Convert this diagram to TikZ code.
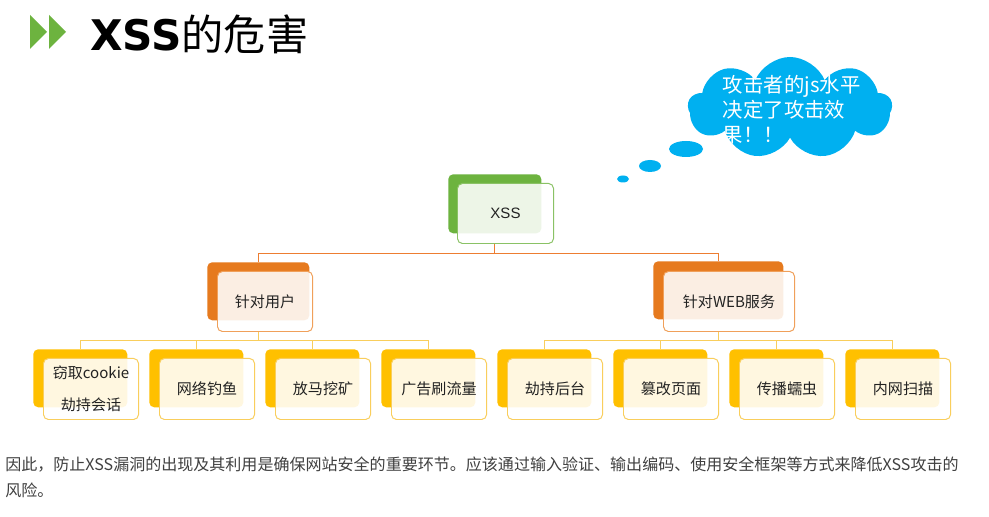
\documentclass[tikz,border=0pt]{standalone}
\usepackage{fontspec}
\usepackage{tikz}
\usetikzlibrary{shapes.symbols}
\setmainfont{Noto Sans CJK SC}
\newfontfamily\arialfont{Liberation Sans}
\newfontfamily\heavyfont{DejaVu Sans}

\definecolor{xgreen}{HTML}{6DB33F}
\definecolor{xorange}{HTML}{E67A1E}
\definecolor{xorangeline}{HTML}{ED7D31}
\definecolor{xorangeedge}{HTML}{F0A05A}
\definecolor{xyellow}{HTML}{FFC000}
\definecolor{xyellowedge}{HTML}{F9CE5C}
\definecolor{xcyan}{HTML}{00B0F0}
\definecolor{xtext}{HTML}{222222}
\definecolor{xnote}{HTML}{404040}

\tikzset{
  backbox/.style={anchor=north west, inner sep=0pt, rounded corners=3.5pt, minimum height=1.45cm},
  frontbox/.style={anchor=north west, inner sep=0pt, rounded corners=3.5pt, line width=0.7pt,
    fill=white, fill opacity=0.88, text opacity=1, text=xtext, align=center,
    minimum height=1.5cm, font=\fontsize{10.7}{22.8}\selectfont},
  lineO/.style={xorangeline, line width=0.7pt},
  lineY/.style={xyellowedge, line width=0.7pt}
}

\begin{document}
\begin{tikzpicture}[x=0.025cm,y=-0.025cm]
\useasboundingbox[fill=white] (0,0) rectangle (989,517);

% title
\fill[xgreen] (30,15) -- (30,49) -- (47,32) -- cycle;
\fill[xgreen] (49,15) -- (49,49) -- (66,32) -- cycle;
\node[anchor=west, inner sep=0pt, font=\fontsize{30}{30}\selectfont] (title) at (90,34)
  {{\heavyfont\bfseries XSS}的危害};

% cloud
\node[cloud, cloud puffs=9, cloud puff arc=135, cloud ignores aspect, fill=xcyan, draw=none,
  minimum width=5.1cm, minimum height=2.55cm] (cloud) at (790,108) {};
\node[anchor=west, text=white, align=left, font=\fontsize{14.5}{17.8}\selectfont] (thought) at (718,110)
  {攻击者的js水平\\决定了攻击效\\果！！};
\fill[xcyan] (686,149) ellipse (17 and 8);
\fill[xcyan] (650,166) ellipse (11 and 6);
\fill[xcyan] (623,179) ellipse (6 and 3.5);

% top
\node[backbox, fill=xgreen, minimum width=2.325cm, minimum height=1.475cm] (xssb) at (448,174) {};
\node[frontbox, draw=xgreen!80, minimum width=2.4cm] (xss) at (457,183) {\arialfont XSS};

% level 1
\node[backbox, fill=xorange, minimum width=2.55cm] (userb) at (207,262) {};
\node[frontbox, draw=xorangeedge, minimum width=2.375cm] (user) at (217,271) {针对用户};
\node[backbox, fill=xorange, minimum width=3.25cm] (webb) at (653,261) {};
\node[frontbox, draw=xorangeedge, minimum width=3.275cm] (web) at (663,271) {针对WEB服务};

\draw[lineO] (xssb.center |- xss.south) -- ++(0,9) -| (userb.north);
\draw[lineO] (xssb.center |- xss.south) -- ++(0,9) -| (webb.north);

% leaves
\foreach \k/\txt in {1/{窃取cookie\\劫持会话},2/网络钓鱼,3/放马挖矿,4/广告刷流量,
                     5/劫持后台,6/篡改页面,7/传播蠕虫,8/内网扫描}{
  \node[backbox, fill=xyellow, minimum width=2.35cm] (lb\k) at (33+116*\k-116,349) {};
  \node[frontbox, draw=xyellowedge, minimum width=2.375cm, minimum height=1.525cm]
    (lf\k) at (43+116*\k-116,358) {\txt};
}
\foreach \k in {1,...,4}
  \draw[lineY] (userb.center |- user.south) -- ++(0,8) -| (lb\k.north);
\foreach \k in {5,...,8}
  \draw[lineY] (webb.center |- web.south) -- ++(0,8) -| (lb\k.north);

% note
\node[anchor=west, inner sep=0pt, text=xnote, font=\fontsize{11.4}{14}\selectfont] (note1) at (5,465)
  {因此，防止XSS漏洞的出现及其利用是确保网站安全的重要环节。应该通过输入验证、输出编码、使用安全框架等方式来降低XSS攻击的};
\node[anchor=west, inner sep=0pt, text=xnote, font=\fontsize{11.4}{14}\selectfont] (note2) at (5,490)
  {风险。};
\end{tikzpicture}
\end{document}
